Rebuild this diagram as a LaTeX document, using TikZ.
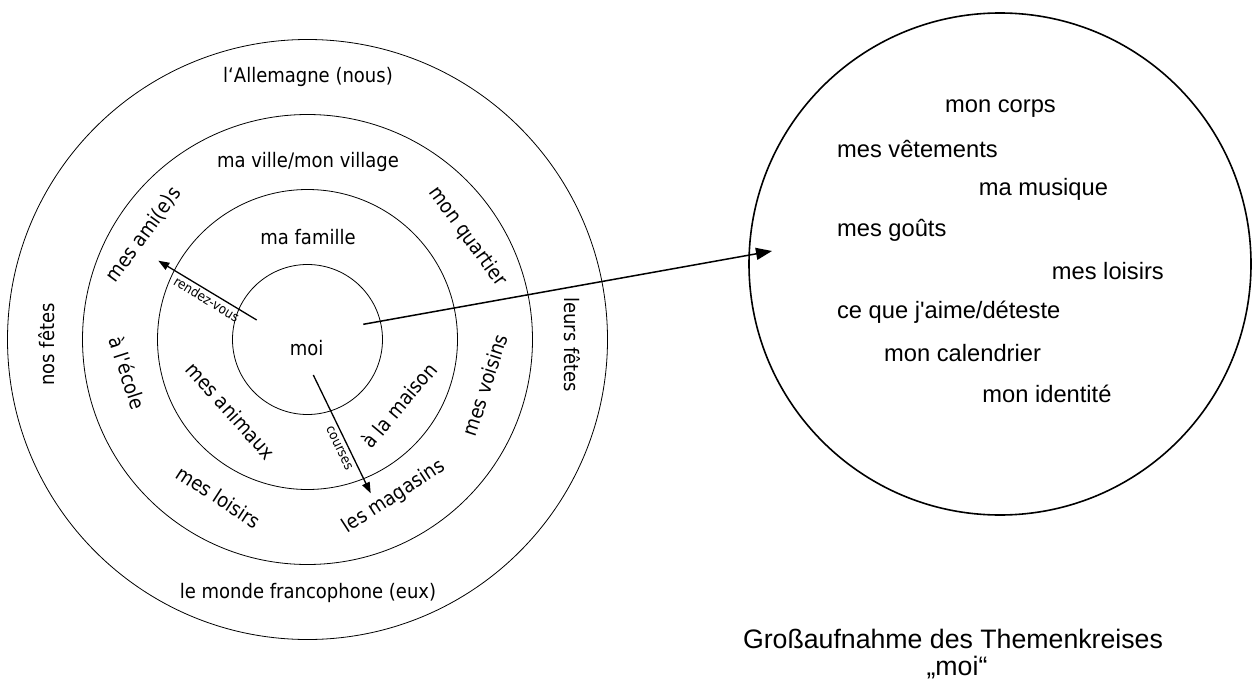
\documentclass[tikz,border=0pt]{standalone}
\usepackage{fontspec}
\usetikzlibrary{arrows.meta}
\newfontfamily\tahfont{DejaVu Sans}[FakeStretch=0.9]
\newfontfamily\arifont{Liberation Sans}
\begin{document}
\begin{tikzpicture}[x=1pt,y=-1pt,
  ring/.style={circle, draw, line width=0.8pt, inner sep=0pt},
  lbl/.style={font=\tahfont\fontsize{20}{24}\selectfont, inner sep=0pt},
  smalllbl/.style={font=\tahfont\fontsize{13.4}{16}\selectfont, inner sep=0pt},
  itm/.style={font=\arifont\fontsize{23.7}{28}\selectfont, inner sep=0pt, anchor=west},
  captxt/.style={font=\arifont\fontsize{26.7}{30}\selectfont, inner sep=0pt, anchor=base},
  arr/.style={line width=1.3pt, -{Triangle[length=11pt,width=8pt]}},
  bigarr/.style={line width=1.5pt, -{Triangle[length=16pt,width=12pt]}},
]
\useasboundingbox (0,0) rectangle (1253,680);
\coordinate (C) at (307.5,339.5);
\node[ring, minimum size=150pt] (r1) at (C) {};
\node[ring, minimum size=300pt] (r2) at (C) {};
\node[ring, minimum size=450pt] (r3) at (C) {};
\node[ring, minimum size=600pt] (r4) at (C) {};
\node[circle, draw, line width=1.6pt, inner sep=0pt, minimum size=502pt] (zoomc) at (1000,264) {};

% ring labels
\node[lbl] (allem) at (308,76.7) {l‘Allemagne (nous)};
\node[lbl] (ville) at (308,161.7) {ma ville/mon village};
\node[lbl] (fam) at (308,237.3) {ma famille};
\node[lbl] (moi) at (306.7,348.3) {moi};
\node[lbl] (monde) at (308,593.3) {le monde francophone (eux)};
\node[lbl,rotate=90] (nos) at (47,344.6) {nos fêtes};
\node[lbl,rotate=-90] (leurs) at (572,344.6) {leurs fêtes};
\node[lbl,rotate=54] (amis) at (143.7,234.8) {mes ami(e)s};
\node[lbl,rotate=-54] (quart) at (467.3,236.8) {mon quartier};
\node[lbl,rotate=-72] (ecole) at (127.9,373) {à l\textquotesingle école};
\node[lbl,rotate=72] (vois) at (485,385) {mes voisins};
\node[lbl,rotate=-48] (anim) at (230.7,410.7) {mes animaux};
\node[lbl,rotate=50] (mais) at (399,405) {à la maison};
\node[lbl,rotate=-33] (lois) at (218.7,497) {mes loisirs};
\node[lbl,rotate=33] (mag) at (394,497) {les magasins};

% arrows
\coordinate (rvS) at (256.7,320);
\coordinate (rvE) at (158.3,260.7);
\draw[arr] (rvS) -- (rvE);
\node[smalllbl,rotate=-31.1] (rv) at (206.7,299) {rendez-vous};
\coordinate (crS) at (313.3,375);
\coordinate (crE) at (370.7,493.3);
\draw[arr] (crS) -- (crE);
\node[smalllbl,rotate=-64.1] (crs) at (339.3,448.3) {courses};
\coordinate (bS) at (363.3,324.3);
\coordinate (bE) at (772,251);
\draw[bigarr] (bS) -- (bE);

% close-up items
\node[itm] (i1) at (945,108.2) {mon corps};
\node[itm] (i2) at (836.9,148.7) {mes vêtements};
\node[itm] (i3) at (978.7,189.3) {ma musique};
\node[itm] (i4) at (836.9,229.9) {mes goûts};
\node[itm] (i5) at (1051.7,271.1) {mes loisirs};
\node[itm] (i6) at (836.9,312) {ce que j\textquotesingle aime/déteste};
\node[itm] (i7) at (884,353) {mon calendrier};
\node[itm] (i8) at (982.2,393.9) {mon identité};

% caption
\node[captxt] (cap1) at (953,648.3) {Großaufnahme des Themenkreises};
\node[captxt] (cap2) at (957,675) {„moi“};
\end{tikzpicture}
\end{document}
